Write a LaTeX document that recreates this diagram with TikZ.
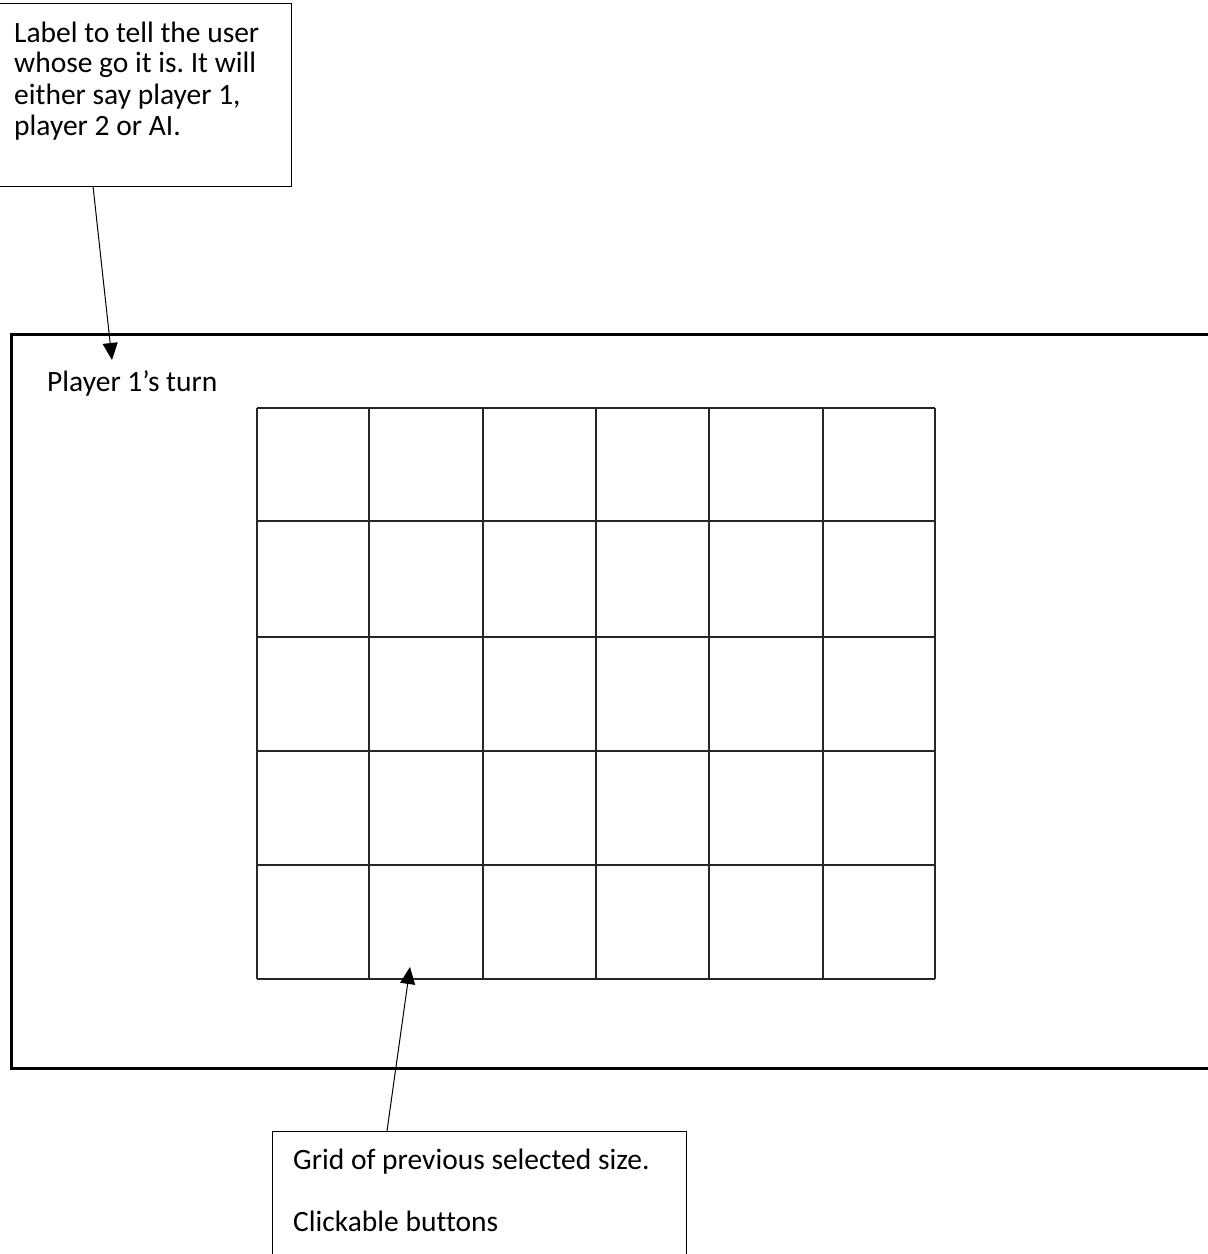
\documentclass[tikz,border=0pt]{standalone}
\usepackage{fontspec}
\setmainfont{Carlito}[Ligatures=NoCommon]
\usetikzlibrary{arrows.meta}
\frenchspacing
\begin{document}
\begin{tikzpicture}[x=1pt,y=-1pt,
  callout/.style={draw=black,line width=1pt,rectangle,inner sep=0pt},
  txt/.style={anchor=west,inner sep=0pt,font=\fontsize{29.5}{32}\selectfont},
  lead/.style={draw=black,line width=1pt,-{Triangle[length=17pt,width=15pt]}},
  gridline/.style={draw=black!85,line width=2pt},
  frame/.style={draw=black,line width=3pt}]
\useasboundingbox (0,0) rectangle (1208,1254);
\clip (0,0) rectangle (1208,1254);
% main window
\node[frame,rectangle,inner sep=0pt,minimum width=1220pt,minimum height=734pt,anchor=north west] (win) at (10,333) {};
% grid
\foreach \x in {257,369,483,596,709,823,935} {\draw[gridline] (\x,408) -- (\x,979);}
\foreach \y in {408,521,637,751,865,979} {\draw[gridline] (257,\y) -- (935,\y);}
\coordinate (cell) at (410,967);
% turn label
\node[txt] (turn) at (47,383) {Player 1’s turn};
\coordinate (turntip) at (112,360);
% top callout
\node[callout,minimum width=294pt,minimum height=183pt,anchor=north west] (box1) at (-3,3) {};
\node[txt] (t1) at (14,32) {Label to tell the user};
\node[txt] (t2) at (14,65) {whose go it is. It will};
\node[txt] (t3) at (14,97) {either say player 1,};
\node[txt] (t4) at (14,128) {player 2 or AI.};
\coordinate (s1) at (93,186);
\draw[lead] (s1) -- (turntip);
% bottom callout
\node[callout,minimum width=414pt,minimum height=160pt,anchor=north west] (box2) at (272,1131) {};
\node[txt] (b1) at (293,1162) {Grid of previous selected size.};
\node[txt] (b2) at (293,1221) {Clickable buttons};
\coordinate (s2) at (387,1131);
\draw[lead] (s2) -- (cell);
\end{tikzpicture}
\end{document}
